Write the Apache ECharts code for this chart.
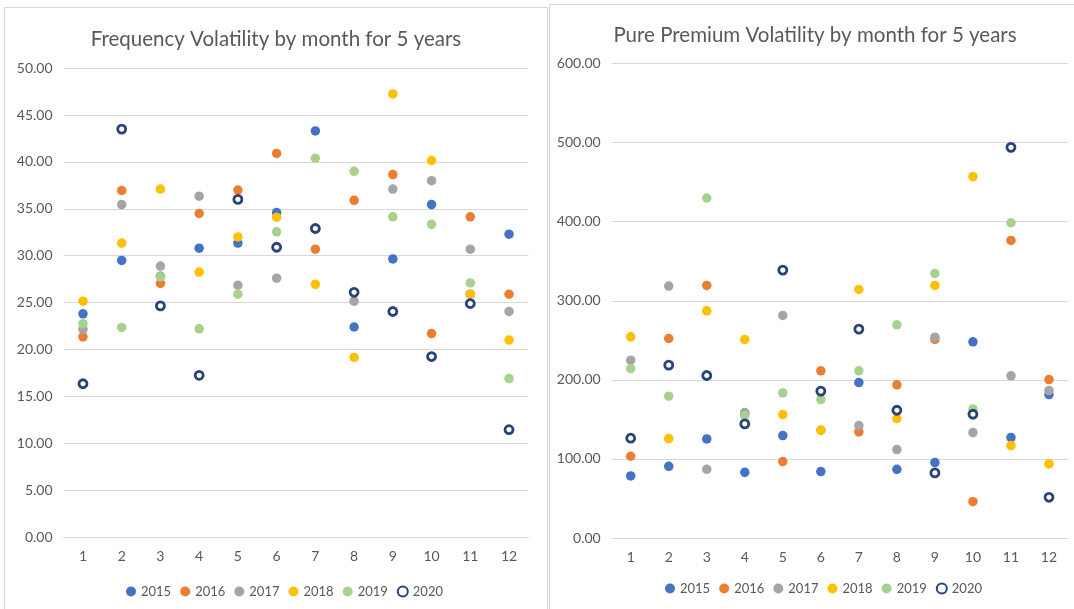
<!DOCTYPE html>
<html><head><meta charset="utf-8">
<script src="https://cdn.jsdelivr.net/npm/echarts@6/dist/echarts.min.js"></script>
<style>
html,body{margin:0;padding:0;background:#fff;width:1074px;height:609px;overflow:hidden;}
#c1{position:absolute;left:4px;top:7px;width:542px;height:610px;border:1px solid #D9D9D9;}
#c2{position:absolute;left:549px;top:4px;width:530px;height:610px;border:1px solid #D9D9D9;}
</style></head>
<body>
<div id="c1"></div><div id="c2"></div>
<script>
const months = ['1','2','3','4','5','6','7','8','9','10','11','12'];
const years = ['2015','2016','2017','2018','2019','2020'];
const freqTicks = [0,5,10,15,20,25,30,35,40,45,50];
const ppTicks = [0,100,200,300,400,500,600];

const f2015 = [23.8, 29.5, 27.8, 30.8, 31.35, 34.6, 43.3, 22.4, 29.65, 35.45, 25.9, 32.3];
const f2016 = [21.35, 36.95, 27.05, 34.5, 37.0, 40.9, 30.7, 35.9, 38.65, 21.7, 34.15, 25.9];
const f2017 = [22.15, 35.45, 28.9, 36.35, 26.85, 27.6, 32.9, 25.15, 37.1, 38.0, 30.7, 24.05];
const f2018 = [25.15, 31.35, 37.1, 28.25, 32.0, 34.1, 26.95, 19.15, 47.25, 40.15, 25.9, 21.0];
const f2019 = [22.75, 22.35, 27.75, 22.2, 25.9, 32.55, 40.4, 39.0, 34.15, 33.35, 27.1, 16.9];
const f2020 = [16.35, 43.5, 24.65, 17.25, 36.0, 30.9, 32.9, 26.1, 24.05, 19.25, 24.9, 11.45];

const p2015 = [78.5, 90.7, 125.3, 83.1, 129.5, 84.0, 196.6, 86.9, 95.4, 248.1, 127.0, 181.4];
const p2016 = [103.4, 252.3, 319.4, 157.0, 96.6, 211.4, 134.2, 193.7, 251.1, 46.0, 376.4, 200.4];
const p2017 = [224.9, 318.6, 86.9, 158.6, 281.4, 136.3, 142.2, 111.8, 254.0, 133.3, 205.1, 186.5];
const p2018 = [254.4, 125.7, 287.3, 251.1, 156.1, 136.3, 314.3, 151.0, 319.4, 457.0, 116.9, 93.7];
const p2019 = [214.3, 179.3, 430.0, 154.9, 183.5, 175.1, 211.4, 269.6, 334.6, 163.3, 398.7, 51.5];
const p2020 = [126.2, 218.6, 205.5, 144.3, 338.8, 185.7, 264.1, 161.6, 82.3, 156.5, 494.1, 51.5];

const colors = ['#4472C4','#ED7D31','#A5A5A5','#FFC000','#A9D18E','#264478'];
const FONT = 'Lato, "Liberation Sans", sans-serif';
const TXT = '#595959';

function makeSeries(arrs){
  return arrs.map((d,i)=>{
    const ring = i===5;
    return {
      name: years[i], type:'scatter', data:d,
      symbol:'circle', symbolSize: ring ? 8 : 9.5,
      itemStyle: ring ? {color:'#ffffff', borderColor:colors[i], borderWidth:2.8, opacity:1}
                      : {color:colors[i], opacity:1},
      emphasis:{disabled:true}, z: 2+i
    };
  });
}

function makeOption(title, ticks, arrs, grid){
  const step = ticks[1]-ticks[0];
  return {
    animation:false,
    title:{text:title, left:'center', top:grid.titleTop,
      textStyle:{fontFamily:FONT, fontSize:20.5, fontWeight:'normal', color:TXT}},
    legend:{data:years, left:grid.legendLeft, top:572, itemWidth:10, itemHeight:10, itemGap:9,
      icon:'circle',
      textStyle:{fontFamily:FONT, fontSize:13, color:TXT}},
    grid:{left:grid.left, top:grid.top, width:grid.width, height:grid.height, containLabel:false},
    xAxis:{type:'category', data:months, boundaryGap:true,
      axisLine:{show:true, lineStyle:{color:'#D9D9D9', width:1}},
      axisTick:{show:false},
      axisLabel:{fontFamily:FONT, fontSize:14, color:TXT, margin:12}},
    yAxis:{type:'value', min:ticks[0], max:ticks[ticks.length-1], interval:step,
      axisLine:{show:false}, axisTick:{show:false},
      splitLine:{lineStyle:{color:'#D9D9D9', width:1}},
      axisLabel:{fontFamily:FONT, fontSize:14, color:TXT, margin:11,
        formatter:(v)=>v.toFixed(2)}},
    series: makeSeries(arrs)
  };
}

const ch1 = echarts.init(document.getElementById('c1'), null, {renderer:'canvas'});
ch1.setOption(makeOption('Frequency Volatility by month for 5 years', freqTicks,
  [f2015,f2016,f2017,f2018,f2019,f2020],
  {left:58.6, top:60.1, width:464.8, height:469, titleTop:16, legendLeft:116}));

const ch2 = echarts.init(document.getElementById('c2'), null, {renderer:'canvas'});
ch2.setOption(makeOption('Pure Premium Volatility by month for 5 years', ppTicks,
  [p2015,p2016,p2017,p2018,p2019,p2020],
  {left:61.7, top:58.6, width:456.3, height:474.4, titleTop:15, legendLeft:110}));
</script>
</body></html>
